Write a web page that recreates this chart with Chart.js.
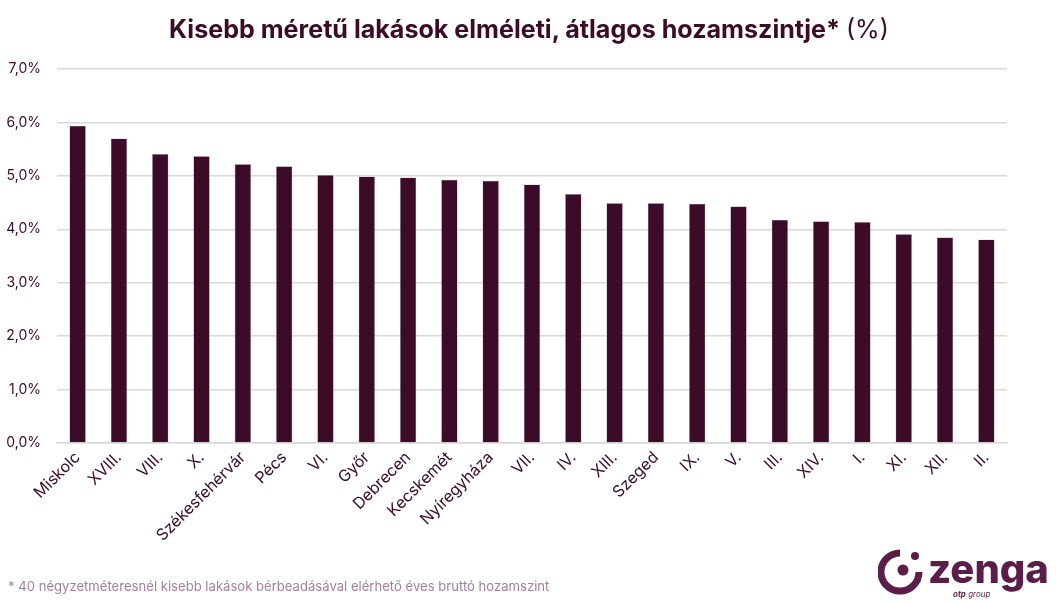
<!DOCTYPE html>
<html>
<head>
<meta charset="utf-8">
<script src="https://cdn.jsdelivr.net/npm/chart.js@4"></script>
<style>
  html,body{margin:0;padding:0;background:#fff;}
  #wrap{position:relative;width:1058px;height:604px;overflow:hidden;font-family:Inter,"Noto Sans",sans-serif;}
  #title{position:absolute;left:0;top:14px;width:1058px;text-align:center;color:#3b0b27;font-size:25.1px;font-weight:700;letter-spacing:0px;}
  #title span{font-weight:400;}
  #note{position:absolute;left:8px;top:578px;color:#a77f98;font-size:13.1px;}
  #logo{position:absolute;left:878px;top:545px;width:175px;height:55px;}
  canvas{position:absolute;left:0;top:0;}
</style>
</head>
<body>
<div id="wrap">
  <canvas id="c" width="1058" height="604"></canvas>
  <div id="title">Kisebb méretű lakások elméleti, átlagos hozamszintje* <span>(%)</span></div>
  <div id="note">* 40 négyzetméteresnél kisebb lakások bérbeadásával elérhető éves bruttó hozamszint</div>
  <svg id="logo" viewBox="0 0 175 55">
    <path d="M22 8 A19 19 0 1 0 41 27" fill="none" stroke="#5a1f49" stroke-width="7"/>
    <circle cx="25" cy="25" r="5.5" fill="#5a1f49"/>
    <circle cx="37" cy="11" r="4" fill="#5a1f49"/>
    <text x="50" y="38" font-family="Inter,sans-serif" font-weight="800" font-size="40" fill="#5a1f49">zenga</text>
    <text x="75" y="52" font-family="Inter,sans-serif" font-style="italic" font-size="8" fill="#5a1f49"><tspan font-weight="700">otp</tspan> group</text>
  </svg>
</div>
<script>
const categories = ["Miskolc","XVIII.","VIII.","X.","Székesfehérvár","Pécs","VI.","Győr","Debrecen","Kecskemét","Nyíregyháza","VII.","IV.","XIII.","Szeged","IX.","V.","III.","XIV.","I.","XI.","XII.","II."];
const yieldValues = [5.94,5.70,5.41,5.37,5.22,5.18,5.02,4.99,4.97,4.93,4.91,4.84,4.66,4.49,4.49,4.48,4.43,4.18,4.15,4.14,3.91,3.85,3.81];
const yTicks = [0,1,2,3,4,5,6,7];

const plum = '#3b0b27';
new Chart(document.getElementById('c'), {
  type: 'bar',
  data: {
    labels: categories,
    datasets: [{
      data: yieldValues,
      backgroundColor: plum,
      borderColor: '#cbb0bf',
      borderWidth: 0.6,
      barPercentage: 0.8,
      categoryPercentage: 0.5
    }]
  },
  options: {
    responsive: false,
    animation: false,
    layout: { padding: { left: 0, right: 51, top: 69, bottom: 0 } },
    plugins: { legend: { display: false }, tooltip: { enabled: false } },
    scales: {
      y: {
        min: 0, max: 7,
        afterBuildTicks: (axis) => { axis.ticks = yTicks.map(v => ({ value: v })); },
        afterFit: (axis) => { axis.width = 57; },
        ticks: {
          color: plum,
          font: { family: 'Inter', size: 14 },
          padding: 16,
          callback: (v) => v.toFixed(1).replace('.', ',') + '%'
        },
        grid: { color: '#d9d9d9', lineWidth: 1.5, drawTicks: false },
        border: { display: false }
      },
      x: {
        afterFit: (axis) => { axis.height = 161; },
        ticks: {
          color: plum,
          font: { family: 'Inter', size: 16 },
          minRotation: 45, maxRotation: 45,
          padding: 5,
          autoSkip: false
        },
        grid: { display: false, drawTicks: false },
        border: { display: true, color: '#d9d9d9', width: 1.5 }
      }
    }
  }
});
</script>
</body>
</html>
